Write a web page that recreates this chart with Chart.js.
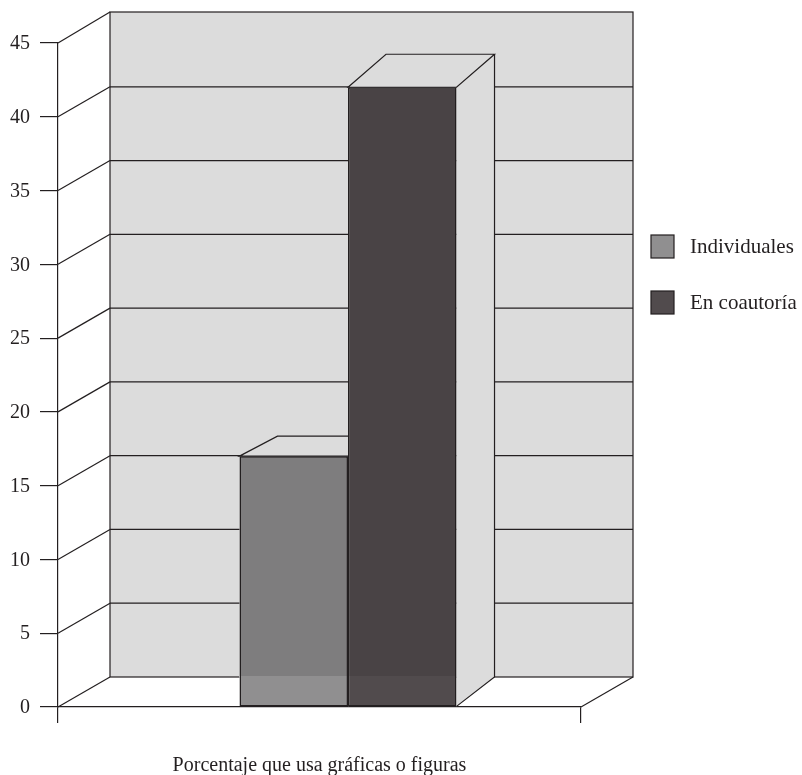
<!DOCTYPE html>
<html>
<head>
<meta charset="utf-8">
<title>Porcentaje que usa gráficas o figuras</title>
<script src="https://cdn.jsdelivr.net/npm/chart.js@4"></script>
<style>
  html, body { margin: 0; padding: 0; background: #fff; }
  canvas { display: block; }
</style>
</head>
<body>
<canvas id="chart" width="802" height="775"></canvas>
<script>
var categories = ["Porcentaje que usa gráficas o figuras"];
var seriesNames = ["Individuales", "En coautoría"];
var individuales = [17];
var coautoria = [42];
var yMin = 0, yMax = 45, yStep = 5;

var ink = "#231f20";
var wallColor = "#dcdcdc";
var serif = "'Liberation Serif', serif";

// the picture is a fake 3D one: back wall sits up and right of the axes
var wallDx = 52, wallDy = 30;
var barShift = 28.5;   // bars are centred on the depth, not on the front axis
var barDepth = 38;
var barRise = [20, 33];

function poly(ctx, pts, fill, stroke) {
    ctx.beginPath();
    ctx.moveTo(pts[0][0], pts[0][1]);
    for (var i = 1; i < pts.length; i++) ctx.lineTo(pts[i][0], pts[i][1]);
    if (fill) { ctx.fillStyle = fill; ctx.closePath(); ctx.fill(); }
    if (stroke) { ctx.strokeStyle = stroke; ctx.stroke(); }
}

var box3d = {
    id: "box3d",
    afterDatasetsUpdate: function (chart) {
        chart.data.datasets.forEach(function (ds, i) {
            chart.getDatasetMeta(i).data.forEach(function (bar) { bar.x += barShift; });
        });
    },
    beforeDatasetsDraw: function (chart) {
        var ctx = chart.ctx, a = chart.chartArea, y = chart.scales.y;
        var backL = a.left + wallDx, backR = a.right + wallDx;
        var backT = a.top - wallDy - 1, backB = a.bottom - wallDy;

        ctx.save();
        ctx.lineWidth = 1.2;
        ctx.fillStyle = wallColor;
        ctx.fillRect(backL, backT, backR - backL, backB - backT);
        ctx.strokeStyle = ink;
        ctx.strokeRect(backL, backT, backR - backL, backB - backT);

        // floor edge on the right, the left one comes from the zero tick
        poly(ctx, [[a.right, a.bottom], [backR, backB]], null, ink);

        // wall grid lines
        y.ticks.forEach(function (t) {
            var py = y.getPixelForValue(t.value);
            var by = t.value == yMax ? backT : py - wallDy;
            poly(ctx, [[a.left, py], [backL, by]], null, ink);
            if (t.value > yMin && t.value < yMax) {
                poly(ctx, [[backL, by], [backR, by]], null, ink);
            }
        });

        // what is behind the bars is hidden, then sides and tops
        chart.data.datasets.forEach(function (ds, i) {
            var bar = chart.getDatasetMeta(i).data[0];
            var l = bar.x - bar.width / 2, r = bar.x + bar.width / 2;
            var rise = barRise[i];
            ctx.fillStyle = wallColor;
            ctx.fillRect(l, bar.y, r - l, backB - bar.y);
            ctx.fillStyle = "#fff";
            ctx.fillRect(l, backB - 1, r - l, bar.base - backB);
            poly(ctx, [[r, bar.y], [r + barDepth, bar.y - rise], [r + barDepth, backB], [r, bar.base]], wallColor);
            poly(ctx, [[l, bar.y], [l + barDepth, bar.y - rise], [r + barDepth, bar.y - rise], [r, bar.y]], wallColor, ink);
            if (i == chart.data.datasets.length - 1) {
                poly(ctx, [[r + barDepth, bar.y - rise], [r + barDepth, backB], [r, bar.base]], null, ink);
            }
        });
        ctx.restore();
    },
    afterDraw: function (chart) {
        // legend sits beside the wall, text further from the swatch than the built in one allows
        var ctx = chart.ctx;
        ctx.save();
        ctx.font = "21px " + serif;
        ctx.textBaseline = "middle";
        chart.data.datasets.forEach(function (ds, i) {
            var top = 235 + i * 56;
            ctx.fillStyle = ds.backgroundColor;
            ctx.fillRect(651, top, 23, 23);
            ctx.strokeStyle = ink;
            ctx.lineWidth = 1.2;
            ctx.strokeRect(651, top, 23, 23);
            ctx.fillStyle = ink;
            ctx.fillText(ds.label, 690, top + 12);
        });
        ctx.restore();
    }
};

new Chart(document.getElementById("chart"), {
    type: "bar",
    data: {
        labels: categories,
        datasets: [
            {
                label: seriesNames[0],
                data: individuales,
                backgroundColor: "rgba(29,27,28,0.49)",
                borderColor: ink,
                borderWidth: 1.5,
                borderSkipped: false
            },
            {
                label: seriesNames[1],
                data: coautoria,
                backgroundColor: "rgba(28,21,23,0.77)",
                borderColor: ink,
                borderWidth: 1.5,
                borderSkipped: false
            }
        ]
    },
    options: {
        responsive: false,
        animation: false,
        layout: { padding: { top: 43, right: 221, bottom: 0, left: 0 } },
        categoryPercentage: 0.415,
        barPercentage: 1,
        plugins: {
            legend: { display: false },
            tooltip: { enabled: false }
        },
        scales: {
            x: {
                afterFit: function (s) { s.height = 68; },
                grid: { offset: true, drawOnChartArea: false, color: ink, tickLength: 16, lineWidth: 1.2 },
                border: { color: ink, width: 1.2 },
                ticks: { color: ink, font: { family: serif, size: 20 }, padding: 31, maxRotation: 0 }
            },
            y: {
                min: yMin,
                max: yMax,
                afterFit: function (s) { s.width = 58; },
                grid: { drawOnChartArea: false, color: ink, tickLength: 18, lineWidth: 1.2 },
                border: { color: ink, width: 1.2 },
                ticks: { stepSize: yStep, color: ink, font: { family: serif, size: 20 }, padding: 10, labelOffset: 1 }
            }
        }
    },
    plugins: [box3d]
});
</script>
</body>
</html>
